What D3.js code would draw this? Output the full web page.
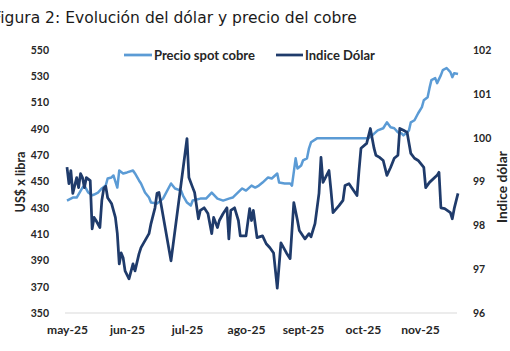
<!DOCTYPE html>
<html>
<head>
<meta charset="utf-8">
<script src="https://cdn.jsdelivr.net/npm/d3@7"></script>
<style>
  html, body { margin: 0; padding: 0; background: #fff; overflow: hidden; }
  svg { display: block; }
</style>
</head>
<body>
<svg id="chart" width="510" height="351"></svg>
<script>
// ---------- DATA ----------
const titleText = "Figura 2: Evolución del dólar y precio del cobre";
const seriesNames = ["Precio spot cobre", "Indice Dólar"];
const leftAxisTitle = "US$ x libra";
const rightAxisTitle = "Indice dólar";

const monthTicks = ["2025-05-01","2025-06-01","2025-07-01","2025-08-01","2025-09-01","2025-10-01","2025-11-01"];
const monthLabels = ["may-25","jun-25","jul-25","ago-25","sept-25","oct-25","nov-25"];
const leftTicks = [350,370,390,410,430,450,470,490,510,530,550];
const rightTicks = [96,97,98,99,100,101,102];

const copperDates = ["05-01","05-04","05-06","05-09","05-10","05-12","05-14","05-15","05-17","05-19","05-21","05-22","05-24","05-25","05-27","05-28","05-30",
"06-01","06-04","06-05","06-07","06-08","06-10","06-12","06-13","06-16","06-19","06-23","06-25","06-28","06-29",
"07-01","07-03","07-04","07-08","07-11","07-14","07-17","07-20","07-23","07-25","07-30",
"08-01","08-04","08-06","08-08","08-10","08-13","08-15","08-18","08-19","08-22","08-25","08-26","08-28","08-29","08-31",
"09-01","09-03","09-04","09-05","09-08",
"10-04","10-06","10-09","10-12","10-14","10-16","10-18","10-20","10-22","10-23","10-25","10-26","10-27","10-29","10-31",
"11-02","11-03","11-05","11-06","11-07","11-09","11-10","11-12","11-13","11-15","11-17","11-18","11-19","11-21"];
const copperValues = [435.5,437.8,437.8,445.4,446.9,441.6,439.5,440.1,441.6,444.7,446.9,452.3,453.1,454.6,445.4,458.4,456.1,
456.9,458.4,456.1,450.8,448.5,441.6,437.8,434.0,433.2,437.0,448.5,444.7,443.1,439.3,
434.0,431.7,435.5,437.0,437.0,441.6,437.0,435.5,437.0,437.8,444.7,
443.1,446.9,445.4,446.9,449.2,453.1,452.3,456.1,449.2,448.5,448.5,446.9,467.6,459.9,462.2,
466.0,467.6,475.2,479.8,482.8,
482.8,485.1,488.9,490.5,495.0,491.2,490.5,487.4,486.6,485.1,487.4,488.9,495.0,496.6,501.9,
506.5,511.8,514.1,521.0,527.1,528.6,524.8,530.9,534.7,536.3,533.2,529.4,532.4,531.7];

const dollarDates = ["05-01","05-02","05-03","05-04","05-06","05-07","05-08","05-09","05-10","05-11","05-13","05-14","05-15","05-16","05-18","05-19","05-20","05-21","05-22","05-24","05-26","05-27","05-28","05-29","05-30","05-31",
"06-02","06-04","06-05","06-07","06-08","06-10","06-12","06-13","06-15","06-16","06-17","06-23",
"07-01","07-02","07-04","07-05","07-07","07-08","07-10","07-12","07-14","07-15","07-17","07-18","07-20","07-22","07-23","07-24","07-26","07-28","07-29",
"08-01","08-03","08-04","08-05","08-07","08-10","08-12","08-14","08-16","08-18","08-20","08-23","08-25","08-27","08-29","08-30",
"09-02","09-04","09-05","09-07","09-09","09-10","09-11","09-14","09-15","09-16","09-19","09-21","09-22","09-24","09-28","09-29","09-30",
"10-03","10-05","10-07","10-08","10-10","10-12","10-14","10-16","10-18","10-20","10-21","10-23","10-25","10-27","10-29","10-31",
"11-03","11-04","11-06","11-10","11-11","11-12","11-14","11-17","11-18","11-19","11-21"];
const dollarValues = [99.33,98.95,99.25,98.73,99.09,98.86,99.18,99.09,98.86,99.09,99.02,97.92,98.18,98.11,97.95,98.57,98.84,98.89,98.63,98.50,98.18,97.81,97.12,97.37,97.26,96.96,
96.78,97.12,96.96,97.35,97.49,97.65,97.81,98.04,98.40,98.73,98.75,97.19,
99.98,99.09,98.86,98.75,98.15,98.34,98.40,98.27,97.81,98.18,97.95,98.11,98.27,98.40,97.69,98.34,98.40,98.11,97.76,
97.76,98.38,98.11,98.34,97.72,97.76,97.58,97.49,97.37,96.57,97.60,97.37,97.24,98.52,98.11,97.88,
97.69,97.81,97.74,98.04,98.73,99.55,98.98,99.25,98.79,98.29,98.45,98.57,98.91,98.95,98.68,99.25,99.76,
99.87,100.21,99.76,99.60,99.55,99.48,99.14,99.32,99.53,99.60,100.21,100.17,100.12,99.64,99.53,99.48,
99.32,98.86,98.98,99.14,99.21,98.40,98.38,98.29,98.15,98.38,98.73];

// ---------- CHART ----------
const parse = d3.timeParse("%Y-%m-%d");
const copper = copperDates.map((d,i) => ({date: parse("2025-" + d), v: copperValues[i]}));
const dollar = dollarDates.map((d,i) => ({date: parse("2025-" + d), v: dollarValues[i]}));
const tickDates = monthTicks.map(parse);

const svg = d3.select("#chart");
const plotL = 65, plotR = 457, plotT = 50, plotB = 313;
const lightBlue = "#5b9bd5", darkBlue = "#1f3b6b", textCol = "#262626";
const labelFont = "Lato, 'Open Sans', sans-serif";

const x = d3.scaleTime()
  .domain([...tickDates, parse("2025-11-21")])
  .range([67, 127, 187, 246, 303, 363, 420, 458]);
const yL = d3.scaleLinear().domain([350, 550]).range([plotB, plotT]);
const yR = d3.scaleLinear().domain([96, 102]).range([plotB, plotT]);

// bottom gridline
svg.append("line")
  .attr("x1", plotL).attr("x2", plotR)
  .attr("y1", yL(350)).attr("y2", yL(350))
  .attr("stroke", "#d9d9d9").attr("stroke-width", 1);

// axes
function styleAxis(size) {
  return g => {
    g.select(".domain").remove();
    g.selectAll(".tick line").remove();
    g.selectAll("text")
      .attr("font-family", labelFont)
      .attr("font-weight", "bold")
      .attr("font-size", size)
      .attr("fill", textCol);
  };
}
svg.append("g").attr("transform", `translate(${plotL},0)`)
  .call(d3.axisLeft(yL).tickValues(leftTicks).tickSize(0).tickPadding(16))
  .call(styleAxis(10.5));
svg.append("g").attr("transform", `translate(${plotR},0)`)
  .call(d3.axisRight(yR).tickValues(rightTicks).tickFormat(d3.format("d")).tickSize(0).tickPadding(16))
  .call(styleAxis(10.5));
const xAxisG = svg.append("g").attr("transform", `translate(0,${plotB})`)
  .call(d3.axisBottom(x).tickValues(tickDates).tickFormat((d,i) => monthLabels[i]).tickSize(0).tickPadding(12))
  .call(styleAxis(12));
{
  const first = xAxisG.select(".tick text").node();
  const w = first.getComputedTextLength();
  const fs = 12 * 41 / w;
  xAxisG.selectAll(".tick text").attr("font-size", fs);
}

// lines
const lineL = d3.line().x(d => x(d.date)).y(d => yL(d.v));
const lineR = d3.line().x(d => x(d.date)).y(d => yR(d.v));
svg.append("path").datum(copper)
  .attr("d", lineL).attr("fill", "none")
  .attr("stroke", lightBlue).attr("stroke-width", 2.5).attr("stroke-linejoin", "round");
svg.append("path").datum(dollar)
  .attr("d", lineR).attr("fill", "none")
  .attr("stroke", darkBlue).attr("stroke-width", 2.75).attr("stroke-linejoin", "round");

// text fit helper
function fitWidth(sel, target) {
  const w = sel.node().getComputedTextLength();
  const fs = parseFloat(sel.attr("font-size"));
  sel.attr("font-size", fs * target / w);
}

// legend
const legend = [
  {name: seriesNames[0], color: lightBlue, x1: 124, x2: 152, tx: 154, tw: 101},
  {name: seriesNames[1], color: darkBlue, x1: 276, x2: 303, tx: 305, tw: 70}
];
legend.forEach(l => {
  svg.append("line").attr("x1", l.x1).attr("x2", l.x2).attr("y1", 55).attr("y2", 55)
    .attr("stroke", l.color).attr("stroke-width", 2.75);
  const t = svg.append("text").attr("x", l.tx).attr("y", 55).attr("dy", "0.35em")
    .attr("font-family", labelFont).attr("font-weight", "bold").attr("font-size", 12)
    .attr("fill", textCol).text(l.name);
  fitWidth(t, l.tw);
});

// axis titles
const lt = svg.append("text")
  .attr("transform", "translate(21,182) rotate(-90)")
  .attr("text-anchor", "middle").attr("dy", "0.35em")
  .attr("font-family", labelFont).attr("font-weight", "bold").attr("font-size", 12)
  .attr("fill", textCol).text(leftAxisTitle);
fitWidth(lt, 61);
const rt = svg.append("text")
  .attr("transform", "translate(502,187) rotate(-90)")
  .attr("text-anchor", "middle").attr("dy", "0.35em")
  .attr("font-family", labelFont).attr("font-weight", "bold").attr("font-size", 12)
  .attr("fill", textCol).text(rightAxisTitle);
fitWidth(rt, 72);

// title (left edge clipped as in the reference)
const title = svg.append("text")
  .attr("y", 23)
  .attr("font-family", "'DejaVu Sans', Verdana, sans-serif")
  .attr("font-size", 15.5)
  .attr("fill", "#1a1a1a")
  .text(titleText);
{
  const n = titleText.length;
  const w = title.node().getSubStringLength(1, n - 1);
  title.attr("font-size", 15.5 * 357 / w);
  const fw = title.node().getSubStringLength(0, 1);
  title.attr("x", 0.3 - fw);
}
</script>
</body>
</html>
